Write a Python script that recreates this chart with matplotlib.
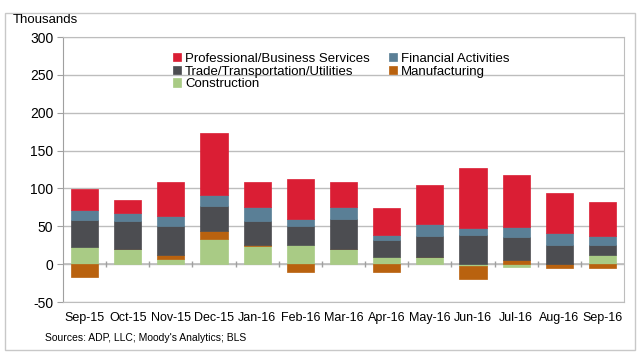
import numpy as np
import matplotlib; matplotlib.use("Agg"); import matplotlib.pyplot as plt
from matplotlib.patches import Rectangle

plt.rcParams['font.family'] = ['Liberation Sans', 'DejaVu Sans']
plt.rcParams['axes.unicode_minus'] = False

months = ["Sep-15", "Oct-15", "Nov-15", "Dec-15", "Jan-16", "Feb-16", "Mar-16",
          "Apr-16", "May-16", "Jun-16", "Jul-16", "Aug-16", "Sep-16"]
construction = [23, 20, 6.5, 33, 24, 26, 20, 10, 10, -2, -4, 0.5, 12]
manufacturing = [-17, 0, 5.5, 11.5, 2, -10, 0, -10, 0, -18, 5, -5, -5]
trade = [36, 37, 38, 32, 31, 25, 40, 22, 27, 38, 30.5, 25.5, 13]
financial = [13, 11, 14, 15, 18, 9, 15, 7, 16, 10, 13, 15, 12]
professional = [27, 17, 44, 82, 33, 53, 34, 35, 52, 79, 69, 53, 45]

series = [("Construction", construction, "#A9CB85"),
          ("Manufacturing", manufacturing, "#B9620F"),
          ("Trade/Transportation/Utilities", trade, "#4C4D51"),
          ("Financial Activities", financial, "#5A7F96"),
          ("Professional/Business Services", professional, "#DA1E34")]

fig = plt.figure(figsize=(6.39, 3.6), dpi=100)
fig.patches.append(Rectangle((0.008, 0.028), 0.985, 0.935, transform=fig.transFigure,
                             fill=False, edgecolor="#c8c8c8", lw=1))
ax = fig.add_axes([0.0986, 0.161, 0.8779, 0.736])

x = np.arange(len(months))
pos = np.zeros(len(months)); neg = np.zeros(len(months))
handles = {}
for name, vals, col in series:
    v = np.array(vals, dtype=float)
    bottom = np.where(v >= 0, pos, neg)
    b = ax.bar(x, v, 0.63, bottom=bottom, color=col, edgecolor=col, lw=0.5, label=name, zorder=3)
    handles[name] = b
    pos = pos + np.where(v >= 0, v, 0)
    neg = neg + np.where(v < 0, v, 0)

ax.set_ylim(-50, 300)
ax.set_xlim(-0.5, len(months) - 0.5)
ax.set_yticks(range(-50, 301, 50))
ax.set_xticks(x)
ax.set_xticklabels(months)
ax.tick_params(axis="x", length=0, labelsize=9, pad=7)
ax.tick_params(axis="y", length=4, color="#a0a0a0", labelsize=10, pad=3)
ax.grid(axis="y", color="#bdbdbd", lw=1, zorder=0)
for s in ax.spines.values():
    s.set_color("#bdbdbd")
ax.spines["left"].set_color("#a0a0a0")
ax.axhline(0, color="#bdbdbd", lw=1.2, zorder=2)
ax.vlines(x[:-1] + 0.5, -4, 4, color="#a0a0a0", lw=1, zorder=2)

order = ["Professional/Business Services", "Trade/Transportation/Utilities", "Construction",
         "Financial Activities", "Manufacturing"]
ax.legend([handles[n] for n in order], order, ncol=2, loc="upper left",
          bbox_to_anchor=(0.175, 0.985), frameon=False, fontsize=9.5,
          handlelength=0.6, handleheight=0.6, handletextpad=0.3,
          labelspacing=0.05, columnspacing=1.5)

fig.text(0.02, 0.935, "Thousands", fontsize=9.5)
fig.text(0.07, 0.052, "Sources: ADP, LLC; Moody's Analytics; BLS", fontsize=7.5)

fig.savefig("out.png", dpi=100)
